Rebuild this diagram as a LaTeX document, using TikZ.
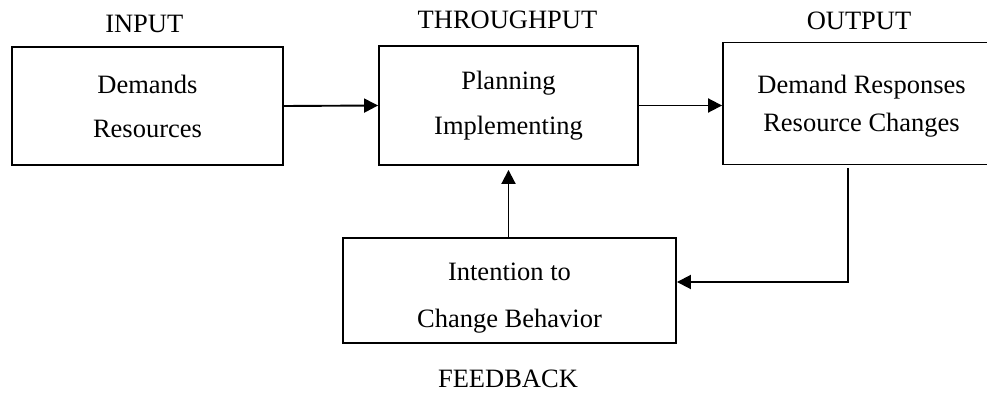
\documentclass[tikz,border=0pt]{standalone}
\usepackage{fontspec}
\setmainfont{Liberation Serif}
\usetikzlibrary{arrows.meta,calc}
\begin{document}
\begin{tikzpicture}[x=1pt,y=-1pt,
  box/.style={draw,line width=1.9pt,inner sep=0pt,align=center},
  lbl/.style={anchor=base,inner sep=0pt,font=\fontsize{26.5}{32}\selectfont},
  arr/.style={line width=1.9pt,-{Triangle[length=14pt,width=14pt]}}]
\useasboundingbox (0,0) rectangle (987,393);
\node[box,minimum width=271pt,minimum height=118pt,font=\fontsize{26.5}{44}\selectfont] (in) at (147.5,106) {Demands\\Resources};
\node[box,minimum width=259pt,minimum height=119pt,font=\fontsize{26.5}{45}\selectfont] (thr) at (508.5,105.5) {Planning\\Implementing};
\node[box,minimum width=277pt,minimum height=122pt,font=\fontsize{26.5}{38}\selectfont] (out) at (861.5,103.5) {\rule{0pt}{24pt}Demand Responses\\Resource Changes};
\node[box,minimum width=333pt,minimum height=105pt,font=\fontsize{26.5}{47}\selectfont] (fb) at (509.5,290.5) {\rule{0pt}{33pt}Intention to\\Change Behavior};
\node[lbl] (inl) at (144.3,33) {INPUT};
\node[lbl] (thrl) at (507.5,29) {THROUGHPUT};
\node[lbl] (outl) at (859,30) {OUTPUT};
\node[lbl] (fbl) at (508,387) {FEEDBACK};
\coordinate (fbstart) at (848,168);
\draw[arr] (in.east) -- (thr.west);
\draw[arr] (thr.east) -- (thr.east -| out.west);
\draw[arr] (fbstart) |- ($(fb.east)+(0,-8.5)$);
\draw[arr,shorten >=4pt] (thr.south |- fb.north) -- (thr.south);
\end{tikzpicture}
\end{document}
